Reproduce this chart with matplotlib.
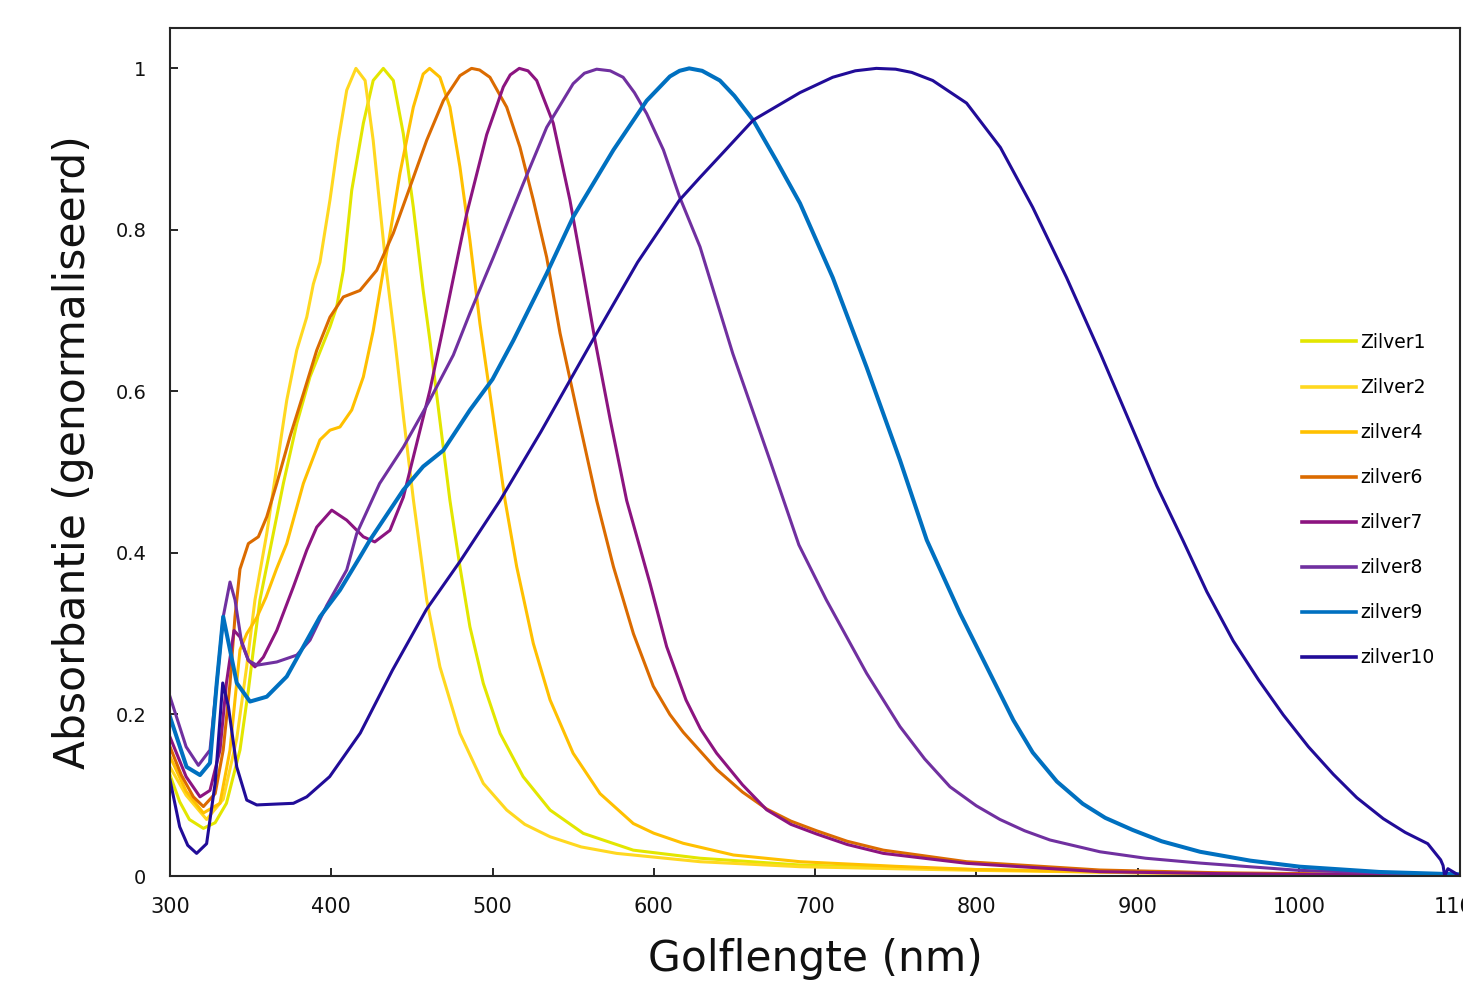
import matplotlib
matplotlib.use("Agg")
import matplotlib.pyplot as plt

# ---------------- data ----------------
labels = ["Zilver1", "Zilver2", "zilver4", "zilver6", "zilver7", "zilver8", "zilver9", "zilver10"]
colors = ["#E3E600", "#FFD820", "#FFC000", "#DB6B00", "#8C1480", "#7030A0", "#0070C0", "#210C98"]

z1_nm = [300, 306, 312, 320.7, 328, 335, 343.4, 348.6, 351.7, 355.8, 362, 370.3, 378.6, 386.8, 395, 399.2,
         403.4, 407.5, 412.7, 419.9, 426, 432.3, 438.5, 444.7, 450.9, 457, 461.2, 467, 473.6, 479.8, 486,
         494.3, 504.7, 519, 535.7, 556.3, 587.3, 628.7, 690.7, 750, 800, 900, 1000, 1100]
z1_abs = [0.125, 0.092, 0.07, 0.059, 0.066, 0.09, 0.156, 0.23, 0.28, 0.342, 0.4035, 0.486, 0.56, 0.618, 0.659, 0.68,
          0.705, 0.75, 0.849, 0.932, 0.985, 1.0, 0.985, 0.919, 0.828, 0.725, 0.663, 0.57, 0.465, 0.383, 0.3085,
          0.2385, 0.1766, 0.123, 0.0817, 0.0528, 0.032, 0.022, 0.0136, 0.010, 0.008, 0.005, 0.002, 0.0]

z2_nm = [300, 310, 322.7, 333, 341.4, 347.6, 352.7, 360, 366.2, 372.4, 378.6, 384.8, 388.9, 393, 399.2, 404.4,
         409.6, 415.3, 421, 426, 430.2, 434.4, 439.5, 445, 451, 459.2, 467.4, 479.8, 494.3, 508.8, 520, 535.7, 555,
         577, 628.7, 690.7, 750, 800, 900, 1000, 1100]
z2_abs = [0.135, 0.1, 0.07, 0.095, 0.17, 0.26, 0.342, 0.424, 0.507, 0.589, 0.651, 0.692, 0.733, 0.76, 0.837, 0.911,
          0.973, 1.0, 0.985, 0.911, 0.828, 0.746, 0.663, 0.565, 0.465, 0.342, 0.259, 0.1766, 0.1147, 0.0817, 0.064, 0.0486, 0.036,
          0.028, 0.0177, 0.0115, 0.009, 0.007, 0.004, 0.002, 0.0]

z4_nm = [300, 310, 320.7, 331, 337.2, 343.4, 347.6, 353.8, 359.5, 366, 372.4, 382.7, 393, 399.2, 405.4, 412.7,
         419.9, 426, 432.3, 436, 442.6, 450.9, 457, 461, 467.4, 473.6, 479.8, 486, 492.2, 500, 507.8, 515, 525.3,
         535.7, 550, 566.7, 587.3, 600, 618.3, 649.4, 690.7, 750, 800, 900, 1000, 1100]
z4_abs = [0.148, 0.105, 0.078, 0.09, 0.156, 0.28, 0.30, 0.32, 0.345, 0.38, 0.4116, 0.486, 0.54, 0.552, 0.556, 0.577,
          0.618, 0.675, 0.75, 0.79, 0.87, 0.952, 0.993, 1.0, 0.989, 0.952, 0.878, 0.787, 0.684, 0.575, 0.465, 0.383, 0.288,
          0.218, 0.152, 0.102, 0.065, 0.053, 0.0405, 0.026, 0.0177, 0.012, 0.008, 0.004, 0.002, 0.0]

z6_nm = [300, 307, 314.5, 320.7, 328, 333, 337.2, 340.3, 343.4, 348.6, 354.8, 360, 366.2, 374.4, 382.7, 391,
         399.2, 407.5, 417.8, 428.2, 438.5, 448.8, 459.2, 469.5, 479.8, 487, 492, 498.4, 508.8, 517, 525.3, 533.6,
         541.9, 553, 564.6, 575, 587.4, 599.7, 610, 618.3, 639, 655, 670, 685, 701, 720, 742.4, 794, 876.7, 950, 1000, 1100]
z6_abs = [0.16, 0.125, 0.098, 0.086, 0.102, 0.156, 0.238, 0.321, 0.38, 0.4116, 0.42, 0.4447, 0.486, 0.544, 0.597, 0.651,
          0.692, 0.717, 0.725, 0.75, 0.796, 0.853, 0.911, 0.96, 0.991, 1.0, 0.998, 0.989, 0.952, 0.9026, 0.837, 0.766,
          0.672, 0.57, 0.465, 0.383, 0.30, 0.235, 0.2, 0.178, 0.132, 0.104, 0.083, 0.068, 0.056, 0.043, 0.032, 0.0177,
          0.0074, 0.004, 0.003, 0.001]

z7_nm = [300, 310, 318.6, 324.8, 331, 335, 339.7, 343.4, 348.6, 352.7, 357.9, 366.2, 376.5, 384.8, 391, 400.3,
         409.6, 419.9, 427, 436.4, 444.7, 453, 461.2, 469.5, 479.8, 484, 496.4, 506.7, 511, 516.6, 522, 527.4, 537.7, 548,
         556.3, 563.6, 573, 583.2, 597.7, 608, 620, 629, 639, 655, 670, 685, 701, 720, 742.4, 794, 876.7, 950, 1000, 1100]
z7_abs = [0.172, 0.123, 0.098, 0.106, 0.156, 0.239, 0.304, 0.296, 0.267, 0.259, 0.271, 0.304, 0.358, 0.4035, 0.432, 0.453,
          0.4406, 0.42, 0.4137, 0.428, 0.469, 0.5355, 0.6015, 0.68, 0.78, 0.82, 0.918, 0.977, 0.992, 1.0, 0.997, 0.985, 0.932,
          0.837, 0.746, 0.663, 0.565, 0.465, 0.362, 0.284, 0.218, 0.182, 0.152, 0.113, 0.082, 0.064, 0.052, 0.039, 0.028,
          0.0157, 0.0053, 0.003, 0.002, 0.001]

z8_nm = [300, 310, 317.6, 324.8, 330, 333, 337.2, 340.3, 344.5, 348.6, 353.8, 366.2, 378.6, 386.8, 397.2, 409.6,
         415.8, 430, 444.7, 461, 475.7, 486, 500.5, 519, 533.6, 550, 557, 564.6, 573, 581, 588, 595.6, 606, 616, 628.7,
         649, 672, 690, 707, 732, 752.7, 768, 783.7, 800, 814.7, 830, 845.7, 876.7, 905, 938.8, 1000, 1050, 1100]
z8_abs = [0.222, 0.16, 0.137, 0.156, 0.259, 0.321, 0.364, 0.342, 0.288, 0.267, 0.261, 0.265, 0.2735, 0.292, 0.335, 0.379,
          0.424, 0.486, 0.531, 0.589, 0.645, 0.697, 0.766, 0.857, 0.927, 0.981, 0.994, 0.999, 0.997, 0.989, 0.97, 0.944,
          0.899, 0.841, 0.779, 0.647, 0.515, 0.41, 0.342, 0.251, 0.185, 0.145, 0.1105, 0.087, 0.07, 0.056, 0.0446, 0.030,
          0.022, 0.016, 0.007, 0.004, 0.002]

z9_nm = [300, 310.3, 318.6, 324.8, 329, 333, 337.2, 341.4, 349.6, 360, 372.4, 382.7, 393, 405.4, 417.8, 424,
         444.7, 457, 469.5, 486, 500, 512.9, 533.6, 550, 575, 595.6, 610, 616, 622, 630, 641, 650, 661.6, 676, 690.7,
         711, 732, 752.7, 769.3, 790, 810.6, 823, 835, 850, 866, 880, 897, 915, 938.8, 970, 1000.8, 1050, 1100]
z9_abs = [0.197, 0.135, 0.125, 0.14, 0.239, 0.321, 0.28, 0.239, 0.216, 0.222, 0.247, 0.284, 0.321, 0.354, 0.395, 0.416,
          0.478, 0.507, 0.527, 0.577, 0.615, 0.663, 0.746, 0.816, 0.899, 0.96, 0.99, 0.997, 1.0, 0.997, 0.985, 0.966,
          0.936, 0.886, 0.833, 0.741, 0.63, 0.515, 0.416, 0.325, 0.2426, 0.193, 0.153, 0.117, 0.0895, 0.072, 0.057, 0.043,
          0.030, 0.019, 0.0115, 0.005, 0.002]

z10_nm = [300, 306, 311, 316.5, 322.7, 328, 332.7, 336.2, 341.4, 347.6, 353.8, 365, 376.5, 384.8, 399, 418, 438,
          459, 480, 504.7, 530, 562, 590, 616, 628.7, 645, 661.7, 690.7, 711, 725, 738, 750, 760, 773, 794, 815, 835,
          856, 877, 897.3, 912, 928.3, 943, 959.4, 975, 990.4, 1006, 1021.4, 1036, 1052.4, 1066, 1080, 1088, 1089.5,
          1090.5, 1092.5, 1100]
z10_abs = [0.119, 0.061, 0.038, 0.028, 0.04, 0.115, 0.239, 0.21, 0.135, 0.094, 0.088, 0.089, 0.090, 0.098, 0.123, 0.177,
           0.255, 0.33, 0.39, 0.465, 0.55, 0.663, 0.76, 0.837, 0.865, 0.90, 0.936, 0.970, 0.989, 0.997, 1.0, 0.999, 0.995,
           0.985, 0.957, 0.902, 0.828, 0.741, 0.647, 0.552, 0.483, 0.415, 0.352, 0.291, 0.243, 0.1995, 0.16, 0.126, 0.097,
           0.071, 0.054, 0.04, 0.02, 0.013, 0.0, 0.009, 0.0]

series_nm = [z1_nm, z2_nm, z4_nm, z6_nm, z7_nm, z8_nm, z9_nm, z10_nm]
series_abs = [z1_abs, z2_abs, z4_abs, z6_abs, z7_abs, z8_abs, z9_abs, z10_abs]

x_ticks = [300, 400, 500, 600, 700, 800, 900, 1000, 1100]
y_ticks = [0, 0.2, 0.4, 0.6, 0.8, 1.0]
y_ticklabels = ["0", "0.2", "0.4", "0.6", "0.8", "1"]

# ---------------- figure ----------------
W, H = 1463, 992
fig = plt.figure(figsize=(W / 100, H / 100), dpi=100)
ax = fig.add_axes([170 / W, 1 - 876 / H, (1460 - 170) / W, (876 - 28) / H])

widths = [2.2, 2.2, 2.2, 2.2, 2.2, 2.2, 2.9, 2.2]
for nm, ab, lab, col, lw in zip(series_nm, series_abs, labels, colors, widths):
    ax.plot(nm, ab, color=col, lw=lw, label=lab, solid_joinstyle="round")

ax.set_xlim(300, 1100)
ax.set_ylim(0, 1.05)
ax.set_xticks(x_ticks)
ax.set_xticklabels([str(t) for t in x_ticks], fontsize=15)
ax.set_yticks(y_ticks)
ax.set_yticklabels(y_ticklabels, fontsize=14)
ax.tick_params(axis="both", direction="in", length=6, width=1.4, color="#262626", labelcolor="#111111")
ax.tick_params(axis="y", pad=17)
ax.tick_params(axis="x", pad=15)
for sp in ax.spines.values():
    sp.set_linewidth(1.5)
    sp.set_color("#262626")

ax.set_xlabel("Golflengte (nm)", fontsize=30.5, color="#111111")
ax.set_ylabel("Absorbantie (genormaliseerd)", fontsize=30.5, color="#111111")
ax.xaxis.set_label_coords(0.5, -(938 - 876) / 848)
ax.yaxis.set_label_coords(-(170 - 94) / 1290, 0.5)

leg = ax.legend(loc="upper left", bbox_to_anchor=(1302 / W, 1 - 333 / H),
                bbox_transform=fig.transFigure, frameon=False, fontsize=13.5,
                handlelength=2.9, handletextpad=0.2, labelspacing=1.39, borderpad=0,
                borderaxespad=0)
for line in leg.get_lines():
    line.set_linewidth(2.6)

fig.savefig("out.png", dpi=100)
